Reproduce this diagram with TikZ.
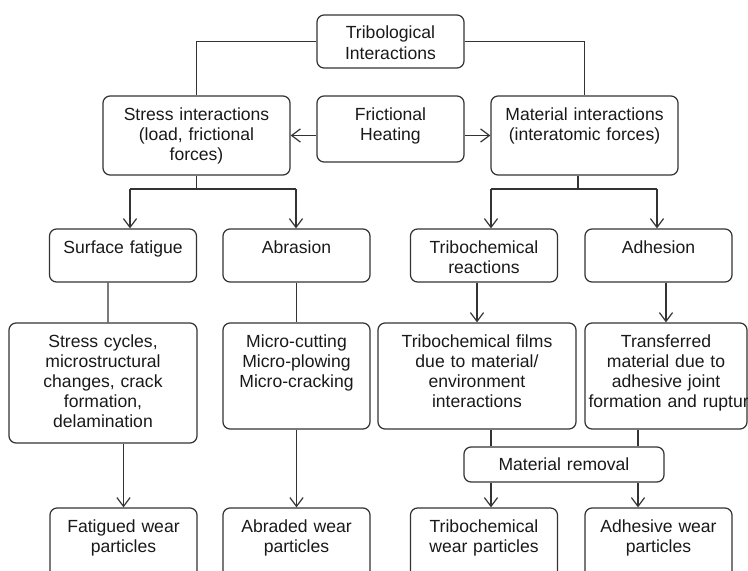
\documentclass[tikz,border=0pt]{standalone}
\usepackage{fontspec}
\setmainfont{Liberation Sans}
\usepackage{tikz}
\usetikzlibrary{arrows.meta, positioning}

\tikzset{
	box/.style={draw=black!80, line width=0.7pt, rounded corners=4pt, align=center,
		inner xsep=2pt, inner ysep=0pt, text height=0.48cm,
		font=\fontsize{10}{11.4}\selectfont, text=black!90},
	link/.style={draw=black!80, line width=0.7pt}
}

\begin{document}
\begin{tikzpicture}[x=0.02cm, y=-0.02cm, >={Straight Barb[length=5pt,width=7.5pt]}]
	\useasboundingbox (0,0) rectangle (748,571);
	\node[box, text width=2.80cm, text depth=0.58cm] at (390.5,41.5) (trib) {Tribological\\Interactions};
	\node[box, text width=3.60cm, text depth=1.10cm] at (196.5,135.5) (stress) {Stress interactions\\(load, frictional\\forces)};
	\node[box, text width=2.80cm, text depth=0.84cm] at (390.5,129) (heat) {Frictional\\Heating};
	\node[box, text width=3.60cm, text depth=1.10cm] at (584.5,135.5) (matint) {Material interactions\\(interatomic forces)};
	\node[box, text width=2.80cm, text depth=0.58cm] at (123,255.5) (fatigue) {Surface fatigue};
	\node[box, text width=2.80cm, text depth=0.58cm] at (296.5,255.5) (abrasion) {Abrasion};
	\node[box, text width=2.80cm, text depth=0.58cm] at (484,255.5) (tribreac) {Tribochemical\\reactions};
	\node[box, text width=2.80cm, text depth=0.58cm] at (658.5,255.5) (adhesion) {Adhesion};
	\node[box, text width=3.62cm, text depth=1.92cm] at (103,383) (cycles) {Stress cycles,\\microstructural\\changes, crack\\formation,\\delamination};
	\node[box, text width=2.80cm, text depth=1.64cm] at (296.5,376) (micro) {Micro-cutting\\Micro-plowing\\Micro-cracking};
	\node[box, text width=3.82cm, text depth=1.64cm] at (477,376) (films) {Tribochemical films\\due to material/\\environment\\interactions};
	\node[box, text width=3.10cm, text depth=1.64cm] at (666,376) (transfer) {Transferred\\material due to\\adhesive joint\\\mbox{formation and rupture}};
	\node[box, text width=3.86cm, text depth=0.22cm] at (564,464.5) (removal) {Material removal};
	\node[box, text width=2.80cm, text depth=1.36cm] at (123.5,554) (fatwear) {Fatigued wear\\particles};
	\node[box, text width=2.80cm, text depth=1.36cm] at (296.5,554) (abrwear) {Abraded wear\\particles};
	\node[box, text width=2.80cm, text depth=1.36cm] at (484,554) (tcwear) {Tribochemical\\wear particles};
	\node[box, text width=2.80cm, text depth=1.36cm] at (658.5,554) (adhwear) {Adhesive wear\\particles};

	\coordinate (sl) at (130,189);
	\coordinate (sr) at (296,189);
	\coordinate (ml) at (491,189);
	\coordinate (mr) at (657,189);
	\coordinate (rl) at (491,0);
	\coordinate (rr) at (638,0);

	\draw[link] (trib.west) -| (stress.north);
	\draw[link] (trib.east) -| (matint.north);
	\draw[link,->] (heat.west |- stress.east) -- (stress.east);
	\draw[link,->] (heat.east |- matint.west) -- (matint.west);

	\draw[link] (stress.south) -- (stress.south |- sl);
	\draw[link] (sl) -- (sr);
	\draw[link,->] (sl) -- (sl |- fatigue.north);
	\draw[link,->] (sr) -- (sr |- abrasion.north);

	\draw[link] ([xshift=-0.13cm]matint.south) -- ++(0,14);
	\draw[link] (ml) -- (mr);
	\draw[link,->] (ml) -- (ml |- tribreac.north);
	\draw[link,->] (mr) -- (mr |- adhesion.north);

	\draw[link] ([xshift=-0.3cm]fatigue.south) -- ([xshift=0.1cm]cycles.north);
	\draw[link] (abrasion) -- (micro);
	\draw[link,->] (tribreac.south -| films.north) -- (films.north);
	\draw[link,->] (adhesion.south -| transfer.north) -- (transfer.north);

	\draw[link,->] (cycles.south -| fatwear.north) -- (fatwear.north);
	\draw[link,->] (micro) -- (abrwear);
	\draw[link] (films.south -| rl) -- (removal.north -| rl);
	\draw[link] (transfer.south -| rr) -- (removal.north -| rr);
	\draw[link,->] (removal.south -| rl) -- (tcwear.north -| rl);
	\draw[link,->] (removal.south -| rr) -- (adhwear.north -| rr);
\end{tikzpicture}
\end{document}
